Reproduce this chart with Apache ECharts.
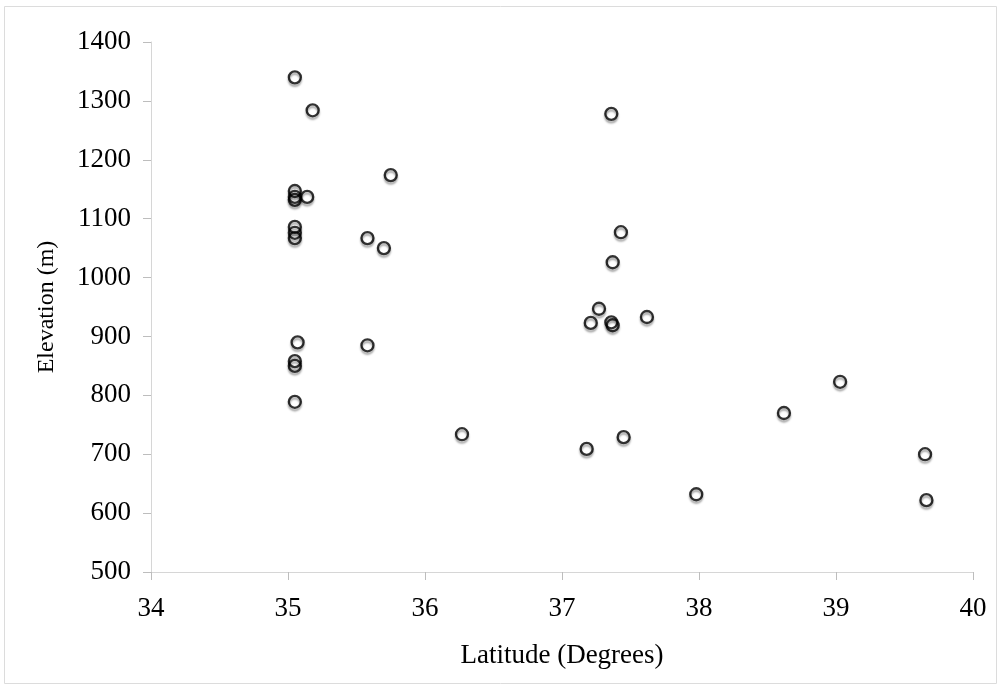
<!DOCTYPE html>
<html>
<head>
<meta charset="utf-8">
<script src="https://cdn.jsdelivr.net/npm/echarts@6/dist/echarts.min.js"></script>
<style>
  html, body { margin: 0; padding: 0; background: #fff; }
  #chart { width: 998px; height: 687px; }
</style>
</head>
<body>
<div id="chart"></div>
<script>
// Sampling sites: latitude (degrees) and elevation (m)
const latitude = [
  35.05, 35.18, 35.05, 35.05, 35.05, 35.14, 35.75, 35.05, 35.05, 35.05,
  35.58, 35.70, 37.36, 37.43, 37.37, 37.27, 37.21, 37.36, 37.37, 37.62,
  35.07, 35.58, 35.05, 35.05, 35.05, 36.27, 37.18, 37.45, 37.98, 38.62,
  39.03, 39.65, 39.66
];
const elevation = [
  1340, 1284, 1147, 1137, 1132, 1137, 1174, 1086, 1076, 1067,
  1067, 1050, 1278, 1077, 1026, 947, 923, 924, 919, 933,
  890, 885, 858, 850, 789, 734, 709, 729, 632, 770,
  823, 700, 622
];
const xTitle = 'Latitude (Degrees)';
const yTitle = 'Elevation (m)';

const points = latitude.map((lat, i) => [lat, elevation[i]]);

const chart = echarts.init(document.getElementById('chart'), null, { renderer: 'canvas' });
const serif = '"Liberation Serif", "Times New Roman", serif';
const axisGray = '#d6d6d6';

chart.setOption({
  backgroundColor: '#ffffff',
  animation: false,
  graphic: [{
    type: 'rect',
    shape: { x: 4.5, y: 6.5, width: 992, height: 677 },
    style: { fill: 'none', stroke: '#dcdcdc', lineWidth: 1 },
    silent: true
  }],
  grid: { left: 151, right: 25, top: 42, bottom: 115 },
  xAxis: {
    type: 'value',
    min: 34, max: 40, interval: 1,
    name: xTitle,
    nameLocation: 'middle',
    nameGap: 70,
    nameTextStyle: { fontFamily: serif, fontSize: 27, color: '#000' },
    axisLine: { show: true, onZero: false, lineStyle: { color: axisGray, width: 1 } },
    axisTick: { show: true, inside: false, length: 8, lineStyle: { color: '#bdbdbd' } },
    axisLabel: { fontFamily: serif, fontSize: 27, color: '#000', margin: 23 },
    splitLine: { show: false }
  },
  yAxis: {
    type: 'value',
    min: 500, max: 1400, interval: 100,
    name: yTitle,
    nameLocation: 'middle',
    nameGap: 92,
    nameRotate: 90,
    nameTextStyle: { fontFamily: serif, fontSize: 24, color: '#000' },
    axisLine: { show: true, onZero: false, lineStyle: { color: axisGray, width: 1 } },
    axisTick: { show: true, inside: false, length: 8, lineStyle: { color: '#bdbdbd' } },
    axisLabel: {
      fontFamily: serif, fontSize: 27, color: '#000', margin: 20,
      formatter: v => String(v)
    },
    splitLine: { show: false }
  },
  series: [{
    type: 'scatter',
    data: points,
    symbol: 'circle',
    symbolSize: 12,
    itemStyle: {
      color: 'rgba(255,255,255,0)',
      borderColor: '#000',
      borderWidth: 2.3,
      shadowColor: 'rgba(0,0,0,0.45)',
      shadowBlur: 2,
      shadowOffsetY: 2.5
    },
    emphasis: { disabled: true }
  }]
});
</script>
</body>
</html>
